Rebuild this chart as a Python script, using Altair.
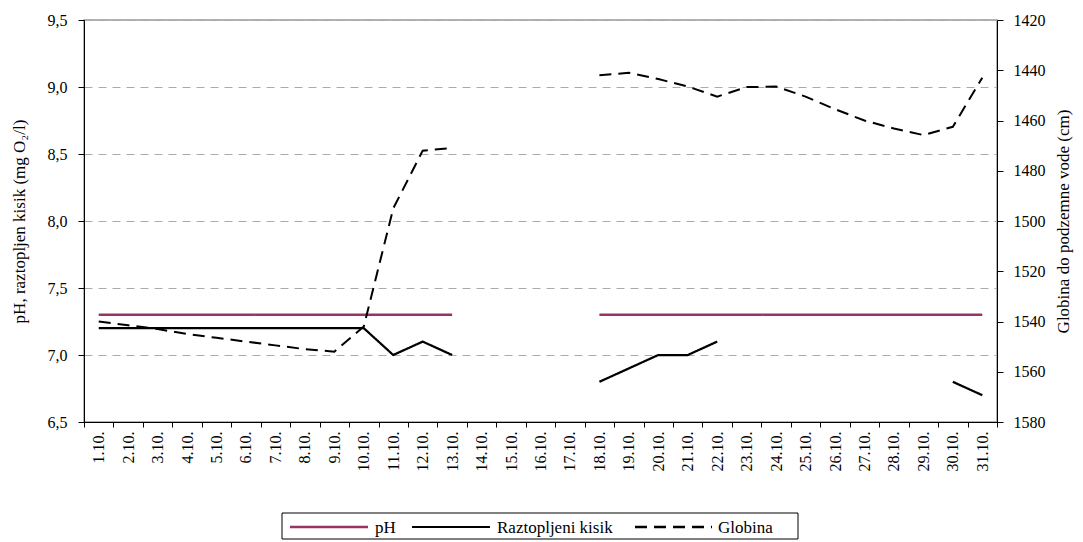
import altair as alt
import pandas as pd

days = [f"{d}.10." for d in range(1, 32)]

ph = [7.3] * 13 + [None] * 4 + [7.3] * 14

kisik = ([7.2] * 10 + [7.0, 7.1, 7.0] + [None] * 4 +
         [6.8, 6.9, 7.0, 7.0, 7.1] + [None] * 7 + [6.8, 6.7])

globina = ([1540, 1541.5, 1543, 1545, 1546.5, 1548, 1549.5, 1551, 1552, 1542,
            1495, 1472, 1471] + [None] * 4 +
           [1442, 1441, 1443.5, 1446.5, 1450.5, 1446.7, 1446.5, 1450.5, 1455.5,
            1460, 1463.2, 1465.8, 1462.5, 1443])

series_names = ["pH", "Raztopljeni kisik", "Globina"]
series_colors = ["#993366", "#000000", "#000000"]
series_dash = [[1, 0], [1, 0], [12, 7]]
series_width = [2.5, 2, 2.5]


def long_rows(name, values):
    rows = []
    seg = 0
    prev_none = True
    for d, v in zip(days, values):
        if v is None:
            prev_none = True
            continue
        if prev_none:
            seg += 1
        prev_none = False
        rows.append({"day": d, "value": v, "series": name, "seg": f"{name}-{seg}"})
    return rows


left_df = pd.DataFrame(long_rows("pH", ph) + long_rows("Raztopljeni kisik", kisik))
right_df = pd.DataFrame(long_rows("Globina", globina))

FONT = "Liberation Serif"

x_enc = alt.X(
    "day:N",
    sort=days,
    scale=alt.Scale(type="band", domain=days, paddingInner=0, paddingOuter=0),
    axis=alt.Axis(
        title=None, labelAngle=270, labelAlign="right", labelBaseline="middle",
        labelPadding=4, tickBand="extent", tickSize=5, tickColor="black",
        domainColor="black", labelFont=FONT, labelFontSize=16, labelColor="black",
        grid=False,
    ),
)

color_enc = alt.Color(
    "series:N", scale=alt.Scale(domain=series_names, range=series_colors), legend=None
)
dash_enc = alt.StrokeDash(
    "series:N", scale=alt.Scale(domain=series_names, range=series_dash), legend=None
)
width_enc = alt.StrokeWidth(
    "series:N", scale=alt.Scale(domain=series_names, range=series_width), legend=None
)

left = alt.Chart(left_df).mark_line().encode(
    x=x_enc,
    y=alt.Y(
        "value:Q",
        scale=alt.Scale(domain=[6.5, 9.5], nice=False, zero=False),
        axis=alt.Axis(
            title="pH, raztopljen kisik (mg O₂/l)", orient="left",
            values=[6.5, 7.0, 7.5, 8.0, 8.5, 9.0, 9.5],
            labelExpr="replace(format(datum.value, '.1f'), '.', ',')",
            grid=True, gridColor="#aaaaaa", gridDash=[8, 6], gridWidth=1,
            tickSize=6, tickColor="black", domainColor="black",
            labelFont=FONT, labelFontSize=16, labelColor="black", labelPadding=11,
            titleFont=FONT, titleFontSize=17, titleFontWeight="normal",
            titleColor="black", titlePadding=19,
        ),
    ),
    color=color_enc,
    strokeDash=dash_enc,
    strokeWidth=width_enc,
    detail="seg:N",
)

right = alt.Chart(right_df).mark_line().encode(
    x=x_enc,
    y=alt.Y(
        "value:Q",
        scale=alt.Scale(domain=[1420, 1580], nice=False, zero=False, reverse=True),
        axis=alt.Axis(
            title="Globina do podzemne vode (cm)", orient="right",
            values=list(range(1420, 1581, 20)), format="d",
            grid=False, tickSize=6, tickColor="black", domainColor="black",
            labelFont=FONT, labelFontSize=16, labelColor="black", labelPadding=10,
            titleFont=FONT, titleFontSize=17, titleFontWeight="normal",
            titleColor="black", titleAngle=270, titleBaseline="top",
            titlePadding=10,
        ),
    ),
    color=color_enc,
    strokeDash=dash_enc,
    strokeWidth=width_enc,
    detail="seg:N",
)

# Manual legend (decoration, placed below the plot)
one = alt.Data(values=[{"k": 1}])
leg_box = alt.Chart(one).mark_rect(fill="white", stroke="black", strokeWidth=1).encode(
    x=alt.value(198), x2=alt.value(714), y=alt.value(493), y2=alt.value(519)
)
leg_layers = [leg_box]
leg_line_x = [(206, 284), (328, 406), (551, 628)]
leg_text_x = [291, 413, 634]
for name, col, dash, w, (lx1, lx2), tx in zip(
    series_names, series_colors, series_dash, series_width, leg_line_x, leg_text_x
):
    leg_layers.append(
        alt.Chart(one).mark_rule(color=col, strokeDash=dash, strokeWidth=w).encode(
            x=alt.value(lx1), x2=alt.value(lx2), y=alt.value(507)
        )
    )
    leg_layers.append(
        alt.Chart(one).mark_text(
            text=name, align="left", baseline="middle", font=FONT, fontSize=17,
            color="black", dy=1,
        ).encode(x=alt.value(tx), y=alt.value(507))
    )

chart = (
    alt.layer(left, right, *leg_layers)
    .resolve_scale(y="independent")
    .properties(
        width=913, height=402,
        autosize=alt.AutoSizeParams(type="none"),
        padding={"left": 76, "top": 12, "right": 78, "bottom": 130},
        background="white",
    )
    .configure_view(stroke="#999999", strokeWidth=1.5)
)

chart.save("out.html", embed_options={"renderer": "svg", "actions": False})
